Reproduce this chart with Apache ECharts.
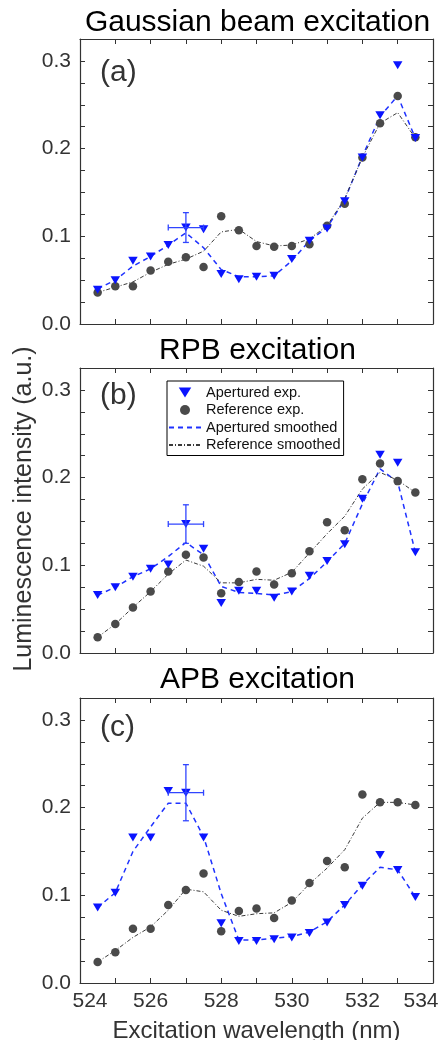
<!DOCTYPE html>
<html>
<head>
<meta charset="utf-8">
<script src="https://cdn.jsdelivr.net/npm/echarts@6/dist/echarts.min.js"></script>
<style>
  html, body { margin: 0; padding: 0; background: #fff; }
  #main { width: 440px; height: 1040px; }
</style>
</head>
<body>
<div id="main"></div>
<script>
// wavelengths (nm)
var wavelengths = [524.5, 525, 525.5, 526, 526.5, 527, 527.5, 528, 528.5, 529, 529.5, 530, 530.5, 531, 531.5, 532, 532.5, 533, 533.5];

// (a) Gaussian beam
var aApExp = [0.039, 0.050, 0.072, 0.077, 0.090, 0.110, 0.108, 0.057, 0.051, 0.054, 0.055, 0.074, 0.095, 0.109, 0.140, 0.190, 0.238, 0.295, 0.212];
var aRefExp = [0.036, 0.043, 0.043, 0.061, 0.071, 0.076, 0.065, 0.123, 0.107, 0.089, 0.088, 0.089, 0.091, 0.112, 0.137, 0.190, 0.229, 0.260, 0.213];
var aApSm = [0.040, 0.050, 0.066, 0.077, 0.090, 0.104, 0.087, 0.062, 0.054, 0.054, 0.055, 0.072, 0.095, 0.110, 0.142, 0.191, 0.237, 0.260, 0.212];
var aRefSm = [0.036, 0.042, 0.048, 0.059, 0.068, 0.074, 0.083, 0.105, 0.108, 0.094, 0.089, 0.090, 0.097, 0.112, 0.143, 0.190, 0.229, 0.241, 0.212];

// (b) RPB
var bApExp = [0.066, 0.075, 0.087, 0.096, 0.101, 0.147, 0.119, 0.057, 0.071, 0.071, 0.063, 0.070, 0.088, 0.105, 0.124, 0.176, 0.226, 0.217, 0.115];
var bRefExp = [0.018, 0.033, 0.052, 0.070, 0.093, 0.112, 0.109, 0.068, 0.081, 0.093, 0.078, 0.091, 0.116, 0.149, 0.140, 0.198, 0.216, 0.196, 0.183];
var bApSm = [0.066, 0.075, 0.087, 0.096, 0.110, 0.126, 0.112, 0.076, 0.069, 0.068, 0.066, 0.070, 0.085, 0.104, 0.125, 0.170, 0.210, 0.195, 0.115];
var bRefSm = [0.018, 0.033, 0.052, 0.070, 0.090, 0.106, 0.099, 0.080, 0.080, 0.084, 0.083, 0.092, 0.114, 0.136, 0.156, 0.187, 0.206, 0.197, 0.183];

// (c) APB
var cApExp = [0.086, 0.103, 0.166, 0.166, 0.219, 0.217, 0.166, 0.068, 0.048, 0.048, 0.050, 0.052, 0.057, 0.069, 0.089, 0.111, 0.146, 0.129, 0.098];
var cRefExp = [0.024, 0.035, 0.062, 0.062, 0.089, 0.106, 0.125, 0.059, 0.082, 0.085, 0.074, 0.094, 0.114, 0.139, 0.132, 0.215, 0.206, 0.206, 0.203];
var cApSm = [0.086, 0.103, 0.150, 0.178, 0.205, 0.205, 0.167, 0.102, 0.049, 0.049, 0.051, 0.053, 0.058, 0.070, 0.089, 0.112, 0.132, 0.129, 0.098];
var cRefSm = [0.024, 0.037, 0.052, 0.064, 0.083, 0.107, 0.104, 0.083, 0.076, 0.079, 0.080, 0.092, 0.113, 0.131, 0.152, 0.188, 0.206, 0.206, 0.203];

// error bars: [x, y, xerr, yerr]
var errA = [527, 0.110, 0.5, 0.017];
var errB = [527, 0.147, 0.5, 0.022];
var errC = [527, 0.217, 0.5, 0.032];

var panelTitles = ['Gaussian beam excitation', 'RPB excitation', 'APB excitation'];
var panelTags = ['(a)', '(b)', '(c)'];
var legendNames = ['Apertured exp.', 'Reference exp.', 'Apertured smoothed', 'Reference smoothed'];

var FONT = 'Liberation Sans, Arial, sans-serif';
var gridTops = [39, 368, 698];
var tagY = [72.5, 395.5, 728];
var titleY = [23, 351, 680];
var GL = 80, GW = 353, GH = 285;

var myChart = echarts.init(document.getElementById('main'));

function zip(xs, ys) {
    var out = [];
    for (var i = 0; i < xs.length; i++) out.push([xs[i], ys[i]]);
    return out;
}

// 误差棒
function renderErr(params, api) {
    var x = api.value(0), y = api.value(1), dx = api.value(2), dy = api.value(3);
    var l = api.coord([x - dx, y]), r = api.coord([x + dx, y]);
    var t = api.coord([x, y + dy]), b = api.coord([x, y - dy]);
    var cap = 3;
    var st = { stroke: '#3045ff', lineWidth: 1.3 };
    return {
        type: 'group',
        children: [
            { type: 'line', shape: { x1: l[0], y1: l[1], x2: r[0], y2: r[1] }, style: st },
            { type: 'line', shape: { x1: t[0], y1: t[1], x2: b[0], y2: b[1] }, style: st },
            { type: 'line', shape: { x1: l[0], y1: l[1] - cap, x2: l[0], y2: l[1] + cap }, style: st },
            { type: 'line', shape: { x1: r[0], y1: r[1] - cap, x2: r[0], y2: r[1] + cap }, style: st },
            { type: 'line', shape: { x1: t[0] - cap, y1: t[1], x2: t[0] + cap, y2: t[1] }, style: st },
            { type: 'line', shape: { x1: b[0] - cap, y1: b[1], x2: b[0] + cap, y2: b[1] }, style: st }
        ]
    };
}

var axisLineStyle = { color: '#333', width: 1.2 };
var grids = [], xAxes = [], yAxes = [], series = [];
var panels = [
    [aApExp, aRefExp, aApSm, aRefSm, errA],
    [bApExp, bRefExp, bApSm, bRefSm, errB],
    [cApExp, cRefExp, cApSm, cRefSm, errC]
];

for (var i = 0; i < 3; i++) {
    grids.push({ left: GL, top: gridTops[i], width: GW, height: GH, outerBoundsMode: 'none', containLabel: false });
    var showX = (i === 2);
    // bottom x
    xAxes.push({
        gridIndex: i, type: 'value', position: 'bottom', min: 524, max: 534, interval: 2,
        axisLine: { show: true, onZero: false, lineStyle: axisLineStyle },
        axisTick: { show: true, inside: true, length: 5, lineStyle: { color: '#333' } },
        minorTick: { show: true, splitNumber: 2, length: 5, lineStyle: { color: '#333' } },
        splitLine: { show: false }, minorSplitLine: { show: false },
        axisLabel: {
            show: showX, color: '#333', fontSize: 21, fontFamily: FONT, margin: 8,
            formatter: function (v) {
                if (v === 524) return '{l|524}';
                if (v === 534) return '{r|534}';
                return String(v);
            },
            rich: {
                l: { fontSize: 21, fontFamily: FONT, color: '#333', padding: [0, 0, 0, 20] },
                r: { fontSize: 21, fontFamily: FONT, color: '#333', padding: [0, 24, 0, 0] }
            }
        },
        name: showX ? 'Excitation wavelength (nm)' : '',
        nameLocation: 'middle', nameGap: 36,
        nameTextStyle: { fontSize: 24, fontFamily: FONT, color: '#333' }
    });
    // top x (ticks only)
    xAxes.push({
        gridIndex: i, type: 'value', position: 'top', min: 524, max: 534, interval: 1,
        axisLine: { show: true, onZero: false, lineStyle: axisLineStyle },
        axisTick: { show: true, inside: true, length: 5, lineStyle: { color: '#333' } },
        splitLine: { show: false }, axisLabel: { show: false }
    });
    // left y
    yAxes.push({
        gridIndex: i, type: 'value', position: 'left', min: 0, max: 0.325, interval: 0.025,
        axisLine: { show: true, onZero: false, lineStyle: axisLineStyle },
        axisTick: { show: true, inside: true, length: 5, lineStyle: { color: '#333' } },
        splitLine: { show: false },
        axisLabel: {
            color: '#333', fontSize: 21, fontFamily: FONT, margin: 9,
            formatter: function (v) {
                var k = Math.round(v * 10);
                return Math.abs(v * 10 - k) < 1e-6 ? (k / 10).toFixed(1) : '';
            }
        }
    });
    // right y (ticks only)
    yAxes.push({
        gridIndex: i, type: 'value', position: 'right', min: 0, max: 0.325, interval: 0.025,
        axisLine: { show: true, onZero: false, lineStyle: axisLineStyle },
        axisTick: { show: true, inside: true, length: 5, lineStyle: { color: '#333' } },
        splitLine: { show: false }, axisLabel: { show: false }
    });

    var p = panels[i];
    var xi = i * 2, yi = i * 2;
    series.push({
        name: legendNames[2], type: 'line', xAxisIndex: xi, yAxisIndex: yi,
        data: zip(wavelengths, p[2]), symbol: 'none', z: 2,
        itemStyle: { color: '#1f32ff' },
        lineStyle: { color: '#1f32ff', width: 1.5, type: [5, 4] }
    });
    series.push({
        name: legendNames[3], type: 'line', xAxisIndex: xi, yAxisIndex: yi,
        data: zip(wavelengths, p[3]), symbol: 'none', z: 2,
        itemStyle: { color: '#3a3a3a' },
        lineStyle: { color: '#3a3a3a', width: 1, type: [4, 2, 1, 2] }
    });
    series.push({
        name: legendNames[1], type: 'scatter', xAxisIndex: xi, yAxisIndex: yi,
        data: zip(wavelengths, p[1]), symbol: 'circle', symbolSize: 8.5, z: 3,
        itemStyle: { color: '#4a4a4a', opacity: 1 }
    });
    series.push({
        name: legendNames[0], type: 'scatter', xAxisIndex: xi, yAxisIndex: yi,
        data: zip(wavelengths, p[0]), symbol: 'path://M0,0L10,0L5,8Z', symbolSize: [9.5, 8], z: 4,
        itemStyle: { color: '#0a14ff', opacity: 1 }
    });
    series.push({
        type: 'custom', xAxisIndex: xi, yAxisIndex: yi, z: 5,
        renderItem: renderErr, encode: { x: 0, y: 1 },
        data: [p[4]], silent: true
    });
}

var graphics = [];
for (var j = 0; j < 3; j++) {
    graphics.push({
        type: 'text', x: GL + GW / 2 + 1, y: titleY[j],
        style: { text: panelTitles[j], fontSize: 30, fontFamily: FONT, fill: '#000', align: 'center', verticalAlign: 'middle' }
    });
    graphics.push({
        type: 'text', x: 100, y: tagY[j],
        style: { text: panelTags[j], fontSize: 30, fontFamily: FONT, fill: '#333', align: 'left', verticalAlign: 'middle' }
    });
}
graphics.push({
    type: 'text', x: 24, y: 509, rotation: Math.PI / 2,
    style: { text: 'Luminescence intensity (a.u.)', fontSize: 25, fontFamily: FONT, fill: '#333', align: 'center', verticalAlign: 'middle' }
});

var option = {
    backgroundColor: '#fff',
    animation: false,
    textStyle: { fontFamily: FONT },
    grid: grids,
    xAxis: xAxes,
    yAxis: yAxes,
    legend: {
        left: 167, top: 381, orient: 'vertical',
        data: [
            { name: legendNames[0] },
            { name: legendNames[1] },
            { name: legendNames[2], itemStyle: { opacity: 0 } },
            { name: legendNames[3], itemStyle: { opacity: 0 } }
        ],
        itemWidth: 32, itemHeight: 10, itemGap: 2.5,
        padding: [4, 3, 3, 1],
        borderColor: '#000', borderWidth: 1, borderRadius: 0,
        backgroundColor: '#fff',
        selectedMode: false,
        textStyle: { fontSize: 14.5, fontFamily: FONT, color: '#111', lineHeight: 14 }
    },
    graphic: graphics,
    series: series
};
myChart.setOption(option);
</script>
</body>
</html>
